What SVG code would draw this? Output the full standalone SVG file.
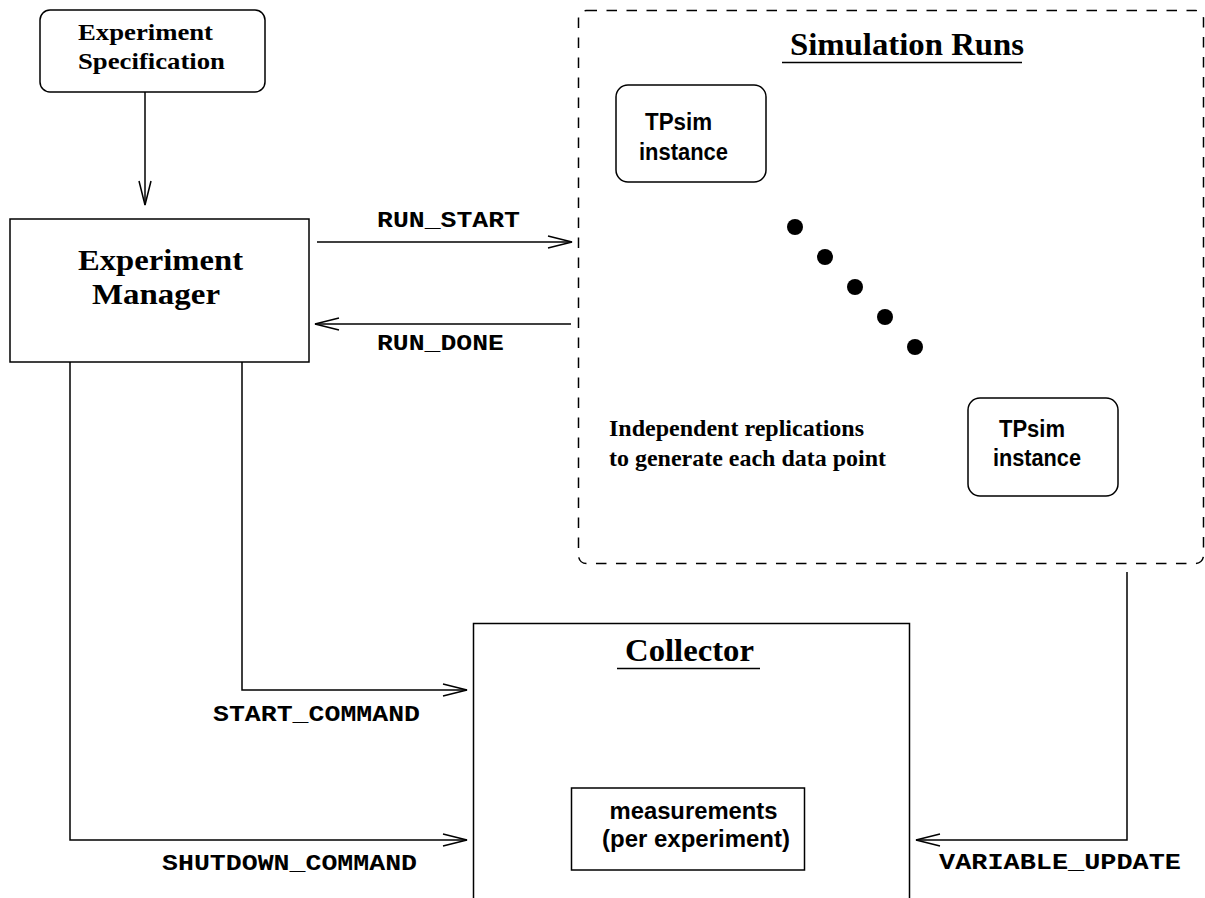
<svg xmlns="http://www.w3.org/2000/svg" width="1205" height="898" viewBox="0 0 1205 898">
  <style>
    .box { fill: #fff; stroke: #000; stroke-width: 1.5; }
    .line { fill: none; stroke: #000; stroke-width: 1.5; }
    .serif { font-family: "Liberation Serif", "Times New Roman", serif; font-weight: bold; fill: #000; }
    .sans { font-family: "Liberation Sans", Arial, sans-serif; font-weight: bold; fill: #000; }
    .mono { font-family: "Liberation Mono", "Courier New", monospace; font-weight: bold; fill: #000; }
  </style>
  <defs>
    <marker id="open-arrow" markerUnits="userSpaceOnUse" markerWidth="26" markerHeight="14" refX="24" refY="6" orient="auto" overflow="visible">
      <path d="M0,0 L24,6 L0,12" fill="none" stroke="#000" stroke-width="1.5"/>
    </marker>
  </defs>

  <rect width="1205" height="898" fill="#fff"/>

  <!-- Simulation runs container -->
  <g id="simulation-runs">
    <rect x="578.5" y="10.5" width="625" height="553" rx="8" fill="none" stroke="#000" stroke-width="1.5" stroke-dasharray="10.5 9.5"/>
    <text class="serif" x="790" y="55" font-size="32" textLength="234" lengthAdjust="spacingAndGlyphs">Simulation Runs</text>
    <line class="line" x1="782" y1="62.5" x2="1022" y2="62.5"/>
    <text class="serif" font-size="23">
      <tspan x="609" y="436" textLength="255" lengthAdjust="spacingAndGlyphs">Independent replications</tspan>
      <tspan x="609" y="466" textLength="277" lengthAdjust="spacingAndGlyphs">to generate each data point</tspan>
    </text>
    <g id="dots" fill="#000">
      <circle cx="795" cy="227" r="8"/>
      <circle cx="825" cy="257" r="8"/>
      <circle cx="855" cy="287" r="8"/>
      <circle cx="885" cy="317" r="8"/>
      <circle cx="915" cy="347" r="8"/>
    </g>
  </g>

  <g id="tpsim-1">
    <rect class="box" x="616" y="85" width="150" height="97" rx="12"/>
    <text class="sans" font-size="23">
      <tspan x="645" y="130" textLength="67" lengthAdjust="spacingAndGlyphs">TPsim</tspan>
      <tspan x="639" y="160" textLength="89" lengthAdjust="spacingAndGlyphs">instance</tspan>
    </text>
  </g>

  <g id="tpsim-2">
    <rect class="box" x="968" y="398" width="150" height="98" rx="12"/>
    <text class="sans" font-size="23">
      <tspan x="999" y="437" textLength="66" lengthAdjust="spacingAndGlyphs">TPsim</tspan>
      <tspan x="993" y="466" textLength="88" lengthAdjust="spacingAndGlyphs">instance</tspan>
    </text>
  </g>

  <g id="experiment-specification">
    <rect class="box" x="40" y="10" width="225" height="82" rx="10"/>
    <text class="serif" font-size="24">
      <tspan x="78" y="39.5" textLength="135" lengthAdjust="spacingAndGlyphs">Experiment</tspan>
      <tspan x="78" y="68.5" textLength="147" lengthAdjust="spacingAndGlyphs">Specification</tspan>
    </text>
  </g>

  <g id="experiment-manager">
    <rect class="box" x="10" y="219" width="299" height="143"/>
    <text class="serif" font-size="30">
      <tspan x="78" y="269.5" textLength="165" lengthAdjust="spacingAndGlyphs">Experiment</tspan>
      <tspan x="92" y="303.5" textLength="128" lengthAdjust="spacingAndGlyphs">Manager</tspan>
    </text>
  </g>

  <g id="collector">
    <path class="line" d="M473.5,900 V623.5 H909.5 V900"/>
    <text class="serif" x="625" y="660.5" font-size="32" textLength="129" lengthAdjust="spacingAndGlyphs">Collector</text>
    <line class="line" x1="617" y1="668.5" x2="760" y2="668.5"/>
  </g>

  <g id="measurements">
    <rect class="box" x="571.5" y="788" width="233" height="82"/>
    <text class="sans" font-size="23">
      <tspan x="609.5" y="818.5" textLength="168" lengthAdjust="spacingAndGlyphs">measurements</tspan>
      <tspan x="602" y="847" textLength="188" lengthAdjust="spacingAndGlyphs">(per experiment)</tspan>
    </text>
  </g>

  <!-- Connectors and their message labels -->
  <g id="connectors">
    <path class="line" d="M145,92 V205" marker-end="url(#open-arrow)"/>
    <path class="line" d="M317,242 H572" marker-end="url(#open-arrow)"/>
    <path class="line" d="M571,324 H315" marker-end="url(#open-arrow)"/>
    <path class="line" d="M242,362 V690 H467" marker-end="url(#open-arrow)"/>
    <path class="line" d="M70,362 V840 H467" marker-end="url(#open-arrow)"/>
    <path class="line" d="M1127,572 V840 H916" marker-end="url(#open-arrow)"/>

    <text class="mono" x="377" y="227" font-size="22" textLength="143" lengthAdjust="spacingAndGlyphs">RUN_START</text>
    <text class="mono" x="377" y="350" font-size="22" textLength="127" lengthAdjust="spacingAndGlyphs">RUN_DONE</text>
    <text class="mono" x="213" y="721" font-size="22" textLength="207" lengthAdjust="spacingAndGlyphs">START_COMMAND</text>
    <text class="mono" x="162" y="870" font-size="22" textLength="255" lengthAdjust="spacingAndGlyphs">SHUTDOWN_COMMAND</text>
    <text class="mono" x="939" y="869" font-size="22" textLength="242" lengthAdjust="spacingAndGlyphs">VARIABLE_UPDATE</text>
  </g>
</svg>
